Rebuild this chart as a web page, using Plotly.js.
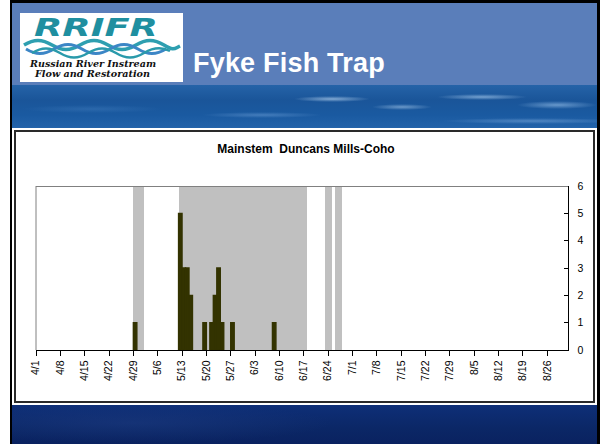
<!DOCTYPE html>
<html>
<head>
<meta charset="utf-8">
<script src="https://cdn.plot.ly/plotly-3.0.1.min.js"></script>
<style>
  html, body { margin:0; padding:0; background:#ffffff; width:600px; height:444px; overflow:hidden; }
  .abs { position:absolute; }
  #frameL { left:10px; top:0; width:2px; height:444px; background:#000; }
  #frameT { left:10px; top:0; width:590px; height:3px; background:#000; }
  #frameR { left:597px; top:0; width:3px; height:444px; background:#000; }
  #header { left:12px; top:3px; width:585px; height:82px; background:#5A7EBA; }
  #ocean { left:12px; top:85px; width:585px; height:43px;
    background:
      radial-gradient(ellipse 38px 3px at 320px 14px, rgba(175,205,235,0.7), rgba(175,205,235,0)),
      radial-gradient(ellipse 30px 3px at 390px 22px, rgba(160,195,230,0.6), rgba(160,195,230,0)),
      radial-gradient(ellipse 45px 3px at 470px 12px, rgba(165,200,235,0.65), rgba(165,200,235,0)),
      radial-gradient(ellipse 40px 4px at 545px 20px, rgba(155,195,235,0.6), rgba(155,195,235,0)),
      radial-gradient(ellipse 60px 3px at 250px 30px, rgba(110,160,215,0.5), rgba(110,160,215,0)),
      radial-gradient(ellipse 90px 3px at 520px 36px, rgba(130,175,225,0.5), rgba(130,175,225,0)),
      radial-gradient(ellipse 70px 4px at 80px 24px, rgba(60,120,185,0.5), rgba(60,120,185,0)),
      linear-gradient(to bottom, #2563A8 0%, #1A5599 35%, #1A5AA1 70%, #2363AA 100%);
  }
  #bottom { left:12px; top:405px; width:585px; height:39px;
    background:
      radial-gradient(ellipse 200px 20px at 120px 18px, rgba(30,60,130,0.5), rgba(30,60,130,0)),
      linear-gradient(to bottom, #0E2F78 0%, #0B2766 60%, #0A2260 100%); }
  #boxOuter { left:12px; top:128px; width:585px; height:277px; background:#fff; }
  #boxInner { left:14px; top:130px; width:581px; height:273px; border:2px solid #2a2a2a; box-sizing:border-box; background:#fff; }
  #logo { left:20px; top:13px; width:163px; height:69px; background:#fff; }
  #title { left:193px; top:48px; color:#fff; font-family:Arial, "Liberation Sans", sans-serif; font-weight:bold; font-size:27px; letter-spacing:0.2px; white-space:nowrap; }
  #chart { left:0; top:0; width:600px; height:444px; }
</style>
</head>
<body>
<div id="header" class="abs"></div>
<div id="ocean" class="abs"></div>
<div id="bottom" class="abs"></div>
<div id="boxOuter" class="abs"></div>
<div id="boxInner" class="abs"></div>
<div id="logo" class="abs">
  <svg width="163" height="69" viewBox="0 0 163 69">
    <text x="14" y="23" textLength="124" lengthAdjust="spacingAndGlyphs"
      font-family="'DejaVu Sans', 'Liberation Sans', sans-serif" font-weight="bold" font-style="italic"
      font-size="25" fill="#1F8FA0">RRIFR</text>
    <path d="M4,32 C14,26 22,26 32,32 S50,38 60,32 S78,26 88,32 S106,38 116,32 S134,26 144,32 S154,36 160,33"
      stroke="#2E9FB0" stroke-width="3.5" fill="none"/>
    <path d="M6,36 C16,42 24,42 34,36 S52,30 62,36 S80,42 90,36 S108,30 118,36 S136,42 146,36"
      stroke="#3C86C6" stroke-width="3" fill="none"/>
    <path d="M12,40 C22,34 30,34 40,40 S58,46 68,40 S86,34 96,40 S114,46 124,40 S142,34 150,38"
      stroke="#2A9AAB" stroke-width="2.5" fill="none"/>
    <text x="10" y="54" textLength="126" lengthAdjust="spacingAndGlyphs"
      font-family="'DejaVu Serif', 'Liberation Serif', serif" font-weight="bold" font-style="italic"
      font-size="8.5" fill="#111">Russian River Instream</text>
    <text x="15" y="64" textLength="115" lengthAdjust="spacingAndGlyphs"
      font-family="'DejaVu Serif', 'Liberation Serif', serif" font-weight="bold" font-style="italic"
      font-size="8.5" fill="#111">Flow and Restoration</text>
  </svg>
</div>
<div id="title" class="abs">Fyke Fish Trap</div>
<div id="frameL" class="abs"></div>
<div id="frameT" class="abs"></div>
<div id="frameR" class="abs"></div>
<div id="chart" class="abs"></div>
<script>
// Days when the trap was not fishing (shaded grey, full height)
var shadedDates = [
  '2009-04-29','2009-04-30','2009-05-01',
  '2009-05-12','2009-05-13','2009-05-14','2009-05-15','2009-05-16','2009-05-17','2009-05-18',
  '2009-05-19','2009-05-20','2009-05-21','2009-05-22','2009-05-23','2009-05-24','2009-05-25',
  '2009-05-26','2009-05-27','2009-05-28','2009-05-29','2009-05-30','2009-05-31','2009-06-01',
  '2009-06-02','2009-06-03','2009-06-04','2009-06-05','2009-06-06','2009-06-07','2009-06-08',
  '2009-06-09','2009-06-10','2009-06-11','2009-06-12','2009-06-13','2009-06-14','2009-06-15',
  '2009-06-16','2009-06-17',
  '2009-06-23','2009-06-24',
  '2009-06-26','2009-06-27'
];
var shadedValues = [
  6,6,6,
  6,6,6,6,6,6,6,
  6,6,6,6,6,6,6,
  6,6,6,6,6,6,6,
  6,6,6,6,6,6,6,
  6,6,6,6,6,6,6,
  6,6,
  6,6,
  6,6
];
// Coho catch per day
var catchDates = ['2009-04-29','2009-05-12','2009-05-13','2009-05-14','2009-05-15','2009-05-19',
                  '2009-05-21','2009-05-22','2009-05-23','2009-05-24','2009-05-27','2009-06-08'];
var catchCounts = [1,5,3,3,2,1,1,2,3,1,1,1];
// Weekly tick labels
var tickDates = ['2009-04-01','2009-04-08','2009-04-15','2009-04-22','2009-04-29','2009-05-06',
                 '2009-05-13','2009-05-20','2009-05-27','2009-06-03','2009-06-10','2009-06-17',
                 '2009-06-24','2009-07-01','2009-07-08','2009-07-15','2009-07-22','2009-07-29',
                 '2009-08-05','2009-08-12','2009-08-19','2009-08-26'];
var tickLabels = ['4/1','4/8','4/15','4/22','4/29','5/6','5/13','5/20','5/27','6/3','6/10','6/17',
                  '6/24','7/1','7/8','7/15','7/22','7/29','8/5','8/12','8/19','8/26'];
var yTicks = [0,1,2,3,4,5,6];

var DAY = 86400000;
function mid(d){ return d + ' 12:00'; }

var traces = [
  { type:'bar', x: shadedDates.map(mid), y: shadedValues, width: DAY,
    marker:{ color:'#C0C0C0', line:{ width:0 } }, hoverinfo:'skip', showlegend:false },
  { type:'bar', x: catchDates.map(mid), y: catchCounts, width: DAY,
    marker:{ color:'#333300', line:{ color:'#333300', width:1.4 } }, hoverinfo:'skip', showlegend:false }
];

var FONT = 'Arial, "Liberation Sans", sans-serif';
var layout = {
  width:600, height:444,
  margin:{ l:36, r:32, t:186, b:94, pad:0 },
  paper_bgcolor:'rgba(0,0,0,0)', plot_bgcolor:'rgba(0,0,0,0)',
  barmode:'overlay', bargap:0,
  font:{ family: FONT, color:'#000', size:10 },
  title:{ text:'<b>Mainstem  Duncans Mills-Coho</b>', font:{ family:FONT, size:12, color:'#000' },
          xref:'container', x:0.51, xanchor:'center', yref:'container', y:1-149/444, yanchor:'middle' },
  xaxis:{ type:'date', range:['2009-04-01','2009-09-01'], tickvals: tickDates, ticktext: tickLabels,
          tickangle:-90, ticks:'outside', ticklen:5, tickwidth:1, tickcolor:'#000',
          showline:true, linecolor:'#000', linewidth:1.3, showgrid:false, zeroline:false,
          tickfont:{ size:10.5, family:FONT, color:'#000' }, fixedrange:true },
  yaxis:{ side:'right', range:[0,6], tickvals: yTicks, ticks:'inside', ticklen:4, tickwidth:1, tickcolor:'#000',
          showline:true, linecolor:'#000', linewidth:1.3, showgrid:false, zeroline:false,
          ticklabelstandoff:6,
          tickfont:{ size:10.5, family:FONT, color:'#000' }, fixedrange:true },
  shapes:[
    { type:'line', xref:'paper', yref:'y', x0:0, x1:1, y0:6, y1:6, line:{ color:'#808080', width:2 } },
    { type:'line', xref:'paper', yref:'y', x0:0, x1:0, y0:0, y1:6, line:{ color:'#808080', width:1 } }
  ]
};
Plotly.newPlot('chart', traces, layout, { displayModeBar:false, staticPlot:true });
</script>
</body>
</html>
